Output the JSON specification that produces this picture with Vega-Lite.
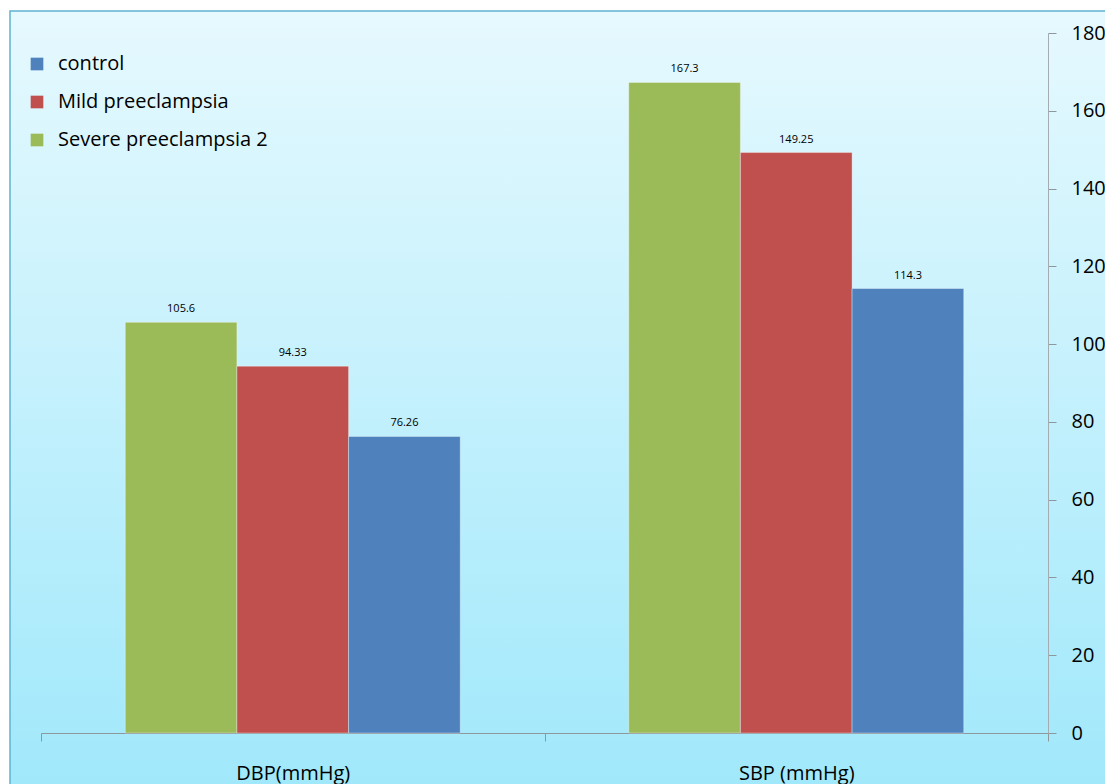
{
  "$schema": "https://vega.github.io/schema/vega-lite/v6.json",
  "width": 1100,
  "height": 780,
  "autosize": {"type": "none"},
  "padding": {"left": 10, "top": 11, "right": 0, "bottom": 0},
  "background": "#ffffff",
  "config": {
    "view": {
      "fill": {"gradient": "linear", "x1": 0, "y1": 0, "x2": 0, "y2": 1,
        "stops": [{"offset": 0, "color": "#e6f9fe"}, {"offset": 1, "color": "#a0e8fb"}]},
      "stroke": "#5fb2d0",
      "strokeWidth": 1.5
    },
    "font": "Open Sans"
  },
  "data": {
    "values": [
      {"measure": "DBP(mmHg)", "group": "Severe preeclampsia 2", "value": 105.6, "label": "105.6"},
      {"measure": "DBP(mmHg)", "group": "Mild preeclampsia", "value": 94.33, "label": "94.33"},
      {"measure": "DBP(mmHg)", "group": "control", "value": 76.26, "label": "76.26"},
      {"measure": "SBP  (mmHg)", "group": "Severe preeclampsia 2", "value": 167.3, "label": "167.3"},
      {"measure": "SBP  (mmHg)", "group": "Mild preeclampsia", "value": 149.25, "label": "149.25"},
      {"measure": "SBP  (mmHg)", "group": "control", "value": 114.3, "label": "114.3"}
    ]
  },
  "encoding": {
    "x": {
      "field": "measure", "type": "nominal", "sort": null,
      "scale": {"range": [31, 1038], "paddingInner": 0, "paddingOuter": 0},
      "axis": {
        "title": null, "orient": "bottom", "offset": -58, "labelAngle": 0,
        "tickBand": "extent", "tickSize": 8, "tickColor": "#8e979c", "domainColor": "#8e979c",
        "labelFontSize": 20, "labelColor": "#000000", "labelPadding": 22, "labelFont": "Open Sans"
      }
    },
    "xOffset": {
      "field": "group", "type": "nominal",
      "scale": {"domain": ["Severe preeclampsia 2", "Mild preeclampsia", "control"], "paddingInner": 0, "paddingOuter": 0.7545}
    },
    "y": {
      "field": "value", "type": "quantitative",
      "scale": {"domain": [0, 180], "range": [722, 22], "nice": false},
      "axis": {
        "title": null, "orient": "right", "offset": -62, "values": [0, 20, 40, 60, 80, 100, 120, 140, 160, 180],
        "grid": false, "tickSize": 8, "tickColor": "#8e979c", "domainColor": "#a3acb0",
        "labelFontSize": 20, "labelColor": "#000000", "labelPadding": 15, "labelFont": "Open Sans"
      }
    }
  },
  "layer": [
    {
      "mark": {"type": "bar", "stroke": "#ffffff", "strokeOpacity": 0.35, "strokeWidth": 1},
      "encoding": {
        "color": {
          "field": "group", "type": "nominal",
          "scale": {"domain": ["control", "Mild preeclampsia", "Severe preeclampsia 2"], "range": ["#4f81bd", "#c0504d", "#9bbb59"]},
          "legend": {
            "title": null, "orient": "none", "legendX": 17, "legendY": 43,
            "symbolType": "square", "symbolSize": 160, "symbolStrokeWidth": 0,
            "labelFontSize": 20, "labelColor": "#000000", "labelFont": "Open Sans", "labelLimit": 0,
            "rowPadding": 18, "labelOffset": 11
          }
        }
      }
    },
    {
      "mark": {"type": "text", "baseline": "bottom", "dy": -8, "fontSize": 11, "color": "#000000", "font": "Open Sans"},
      "encoding": {"text": {"field": "label"}}
    }
  ]
}
